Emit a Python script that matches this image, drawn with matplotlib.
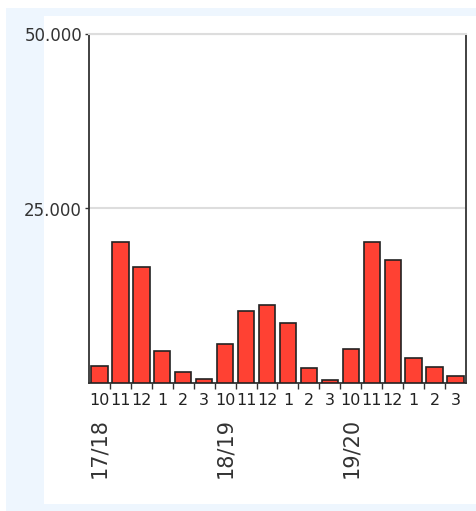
import matplotlib
matplotlib.use('Agg')
import matplotlib.pyplot as plt
from matplotlib.patches import Rectangle
from matplotlib.ticker import FuncFormatter

# Daten
months = ['10', '11', '12', '1', '2', '3'] * 3
seasons = ['17/18', '18/19', '19/20']
values = [2400, 20200, 16600, 4600, 1600, 600,
          5600, 10300, 11200, 8600, 2100, 500,
          4900, 20200, 17600, 3600, 2300, 1000]

W, H = 477, 511
fig = plt.figure(figsize=(W / 100, H / 100), dpi=100, facecolor='white')

# Hintergrund: hellblauer Rahmen, weisse Flaeche
fig.patches.append(Rectangle((6 / W, 0), 1, 1 - 8 / H, transform=fig.transFigure,
                             facecolor='#eef6fe', edgecolor='none', zorder=-10))
fig.patches.append(Rectangle((44 / W, 7 / H), 1, (504 - 16) / H, transform=fig.transFigure,
                             facecolor='white', edgecolor='none', zorder=-9))

ax = fig.add_axes([89 / W, 1 - 383 / H, (466 - 89) / W, (383 - 34) / H])
ax.set_facecolor('white')

x = list(range(len(values)))
ax.bar(x, values, width=0.78, color='#ff4133', edgecolor='#222222', linewidth=1.2, zorder=3)

ax.set_xlim(-0.5, len(values) - 0.5)
ax.set_ylim(0, 50000)

ax.set_yticks([25000, 50000])
ax.yaxis.set_major_formatter(FuncFormatter(lambda v, p: f'{int(v):,}'.replace(',', '.')))
ax.tick_params(axis='y', length=3, width=1, labelsize=12, colors='#333333', pad=2)
ax.yaxis.grid(True, color='#dddddd', linewidth=1.5, zorder=0)

# Monatsbeschriftung mittig, Striche an Slot-Grenzen
ax.set_xticks([i + 0.5 for i in x[:-1]])
ax.set_xticklabels([])
ax.tick_params(axis='x', length=4, width=1, colors='#333333')
for i, m in enumerate(months):
    ax.text(i, -1400, m, ha='center', va='top', fontsize=11.5, color='#222222')

# Saisonbeschriftung senkrecht
for k, s in enumerate(seasons):
    ax.text(k * 6, -5000, s, rotation=90, ha='center', va='top', fontsize=15, color='#333333')

for side in ['left', 'right', 'bottom']:
    ax.spines[side].set_color('#333333')
    ax.spines[side].set_linewidth(1.3)
ax.spines['top'].set_color('#dddddd')
ax.spines['top'].set_linewidth(1.5)

fig.savefig('out.png', dpi=100, facecolor=fig.get_facecolor())
